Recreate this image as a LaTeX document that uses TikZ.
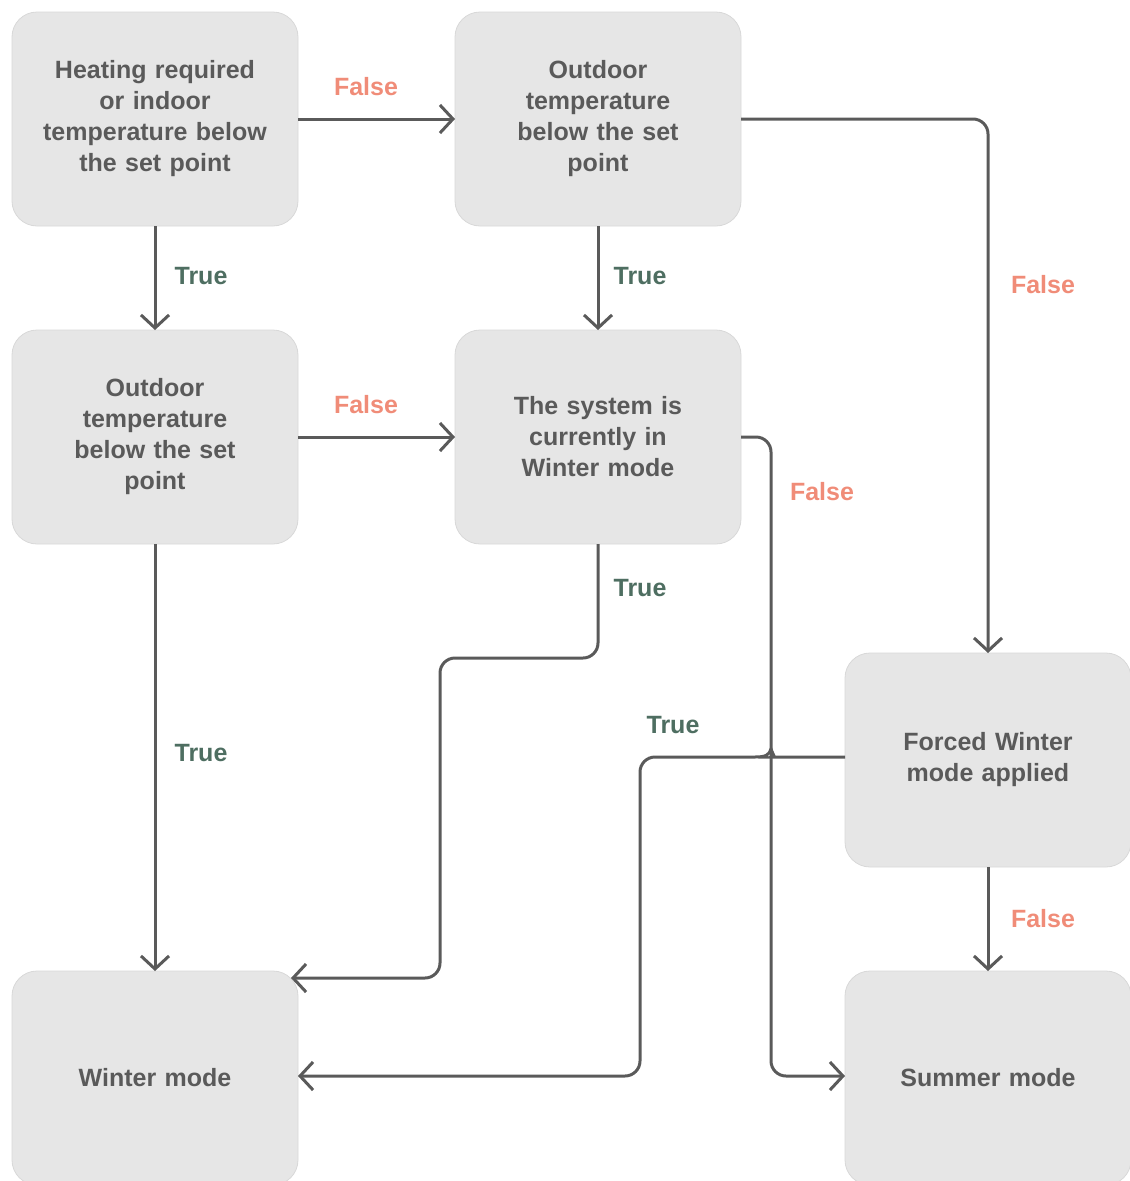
\documentclass[tikz,border=0pt]{standalone}
\usepackage{fontspec}
\setmainfont{Liberation Sans}
\usetikzlibrary{positioning, arrows.meta}
\definecolor{boxfill}{HTML}{E6E6E6}
\definecolor{boxline}{HTML}{D8D8D8}
\definecolor{inkgray}{HTML}{5A5A5A}
\definecolor{falsecol}{HTML}{F08C78}
\definecolor{truecol}{HTML}{4E6E61}
\tikzstyle{stylebox} = [rectangle, rounded corners=25pt, minimum width=286pt, minimum height=214pt, inner sep=0pt, outer sep=0pt, text width=270pt, align=center, draw=boxline, line width=0.8pt, fill=boxfill, text=inkgray, font=\bfseries\fontsize{25}{31}\selectfont]
\tikzstyle{styleline} = [draw=inkgray, line width=3pt, rounded corners=15pt, -{Straight Barb[length=13pt,width=28pt,line width=3pt]}]
\tikzstyle{stylefalse} = [text=falsecol, font=\bfseries\fontsize{25}{28}\selectfont]
\tikzstyle{styletrue} = [text=truecol, font=\bfseries\fontsize{25}{28}\selectfont]

\begin{document}
\begin{tikzpicture}[x=1pt, y=-1pt]
\useasboundingbox (0,0) rectangle (1130,1181);

\node (heat) [stylebox] at (155,119) {Heating required\\or indoor\\temperature below\\the set point};
\node (outa) [stylebox, right=157pt of heat] {Outdoor\\temperature\\below the set\\point};
\node (outb) [stylebox, below=104pt of heat] {Outdoor\\temperature\\below the set\\point};
\node (cur) [stylebox, right=157pt of outb] {The system is\\currently in\\Winter mode};
\node (winter) [stylebox, below=427pt of outb] {Winter mode};
\node (summer) [stylebox, right=547pt of winter] {Summer mode};
\node (forced) [stylebox, above=104pt of summer] {Forced Winter\\mode applied};

% connectors
\draw[styleline] (heat.east) -- (outa.west);
\draw[styleline] (heat.south) -- (outb.north);
\draw[styleline] (outa.south) -- (cur.north);
\draw[styleline] (outa.east) -- (forced.north |- 0,119) -- (forced.north);
\draw[styleline] (outb.east) -- (cur.west);
\draw[styleline] (outb.south) -- (winter.north);
\draw[styleline] (cur.south) -- (cur.south |- 0,658) -- (440,658) -- (440,978) -- (291,978);
\draw[styleline] (cur.east) -- (771,437) -- (771,1076) -- (summer.west |- 0,1076);
\draw[styleline] (forced.west |- 0,757) -- (787,757) [sharp corners] .. controls (776,757) and (773,755) .. (771,749)
  .. controls (769,755) and (766,757) .. (755,757) [rounded corners=15pt] -- (640,757) -- (640,1076) -- (winter.east |- 0,1076);
\draw[styleline] (forced.south) -- (summer.north);

% labels
\node (lf1) [stylefalse] at (366,87) {False};
\node (lt1) [styletrue] at (201,276) {True};
\node (lt2) [styletrue] at (640,276) {True};
\node (lf2) [stylefalse] at (1043,285) {False};
\node (lf3) [stylefalse] at (366,405) {False};
\node (lf4) [stylefalse] at (822,492) {False};
\node (lt3) [styletrue] at (640,588) {True};
\node (lt4) [styletrue] at (673,725) {True};
\node (lt5) [styletrue] at (201,753) {True};
\node (lf5) [stylefalse] at (1043,919) {False};
\end{tikzpicture}
\end{document}
